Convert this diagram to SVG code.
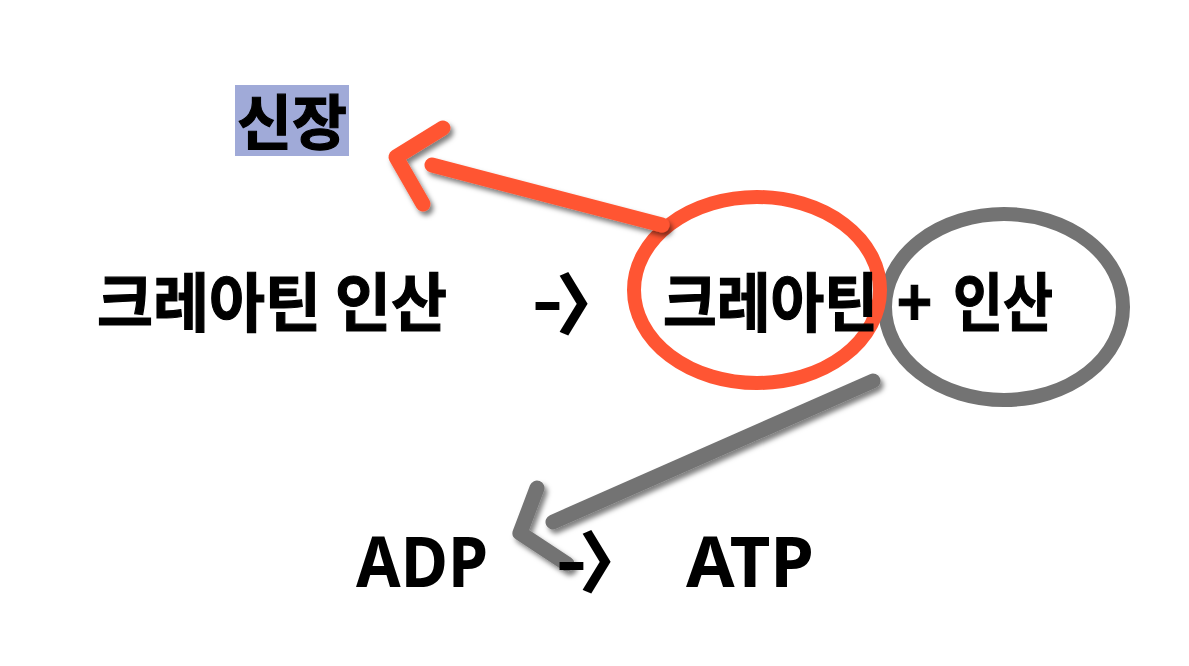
<svg xmlns="http://www.w3.org/2000/svg" width="1189" height="666" viewBox="0 0 1189 666">
<defs>
<style>
.t{font-family:"Noto Sans CJK KR","Noto Sans",sans-serif;font-weight:700;fill:#000;stroke:#000;stroke-width:1.2;}
.lat{font-family:"Noto Sans","Liberation Sans",sans-serif;font-weight:700;fill:#000;}
.dash{font-family:"Noto Sans","Liberation Sans",sans-serif;font-weight:700;fill:#000;}
.br{font-family:"Noto Sans CJK KR",sans-serif;font-weight:700;fill:#000;stroke:#000;stroke-width:2.5;}
.red{stroke:#ff5533;fill:none;stroke-width:15;stroke-linecap:round;stroke-linejoin:round;}
.gray{stroke:#737373;fill:none;stroke-width:15;stroke-linecap:round;stroke-linejoin:round;}
</style>
<filter id="sh" x="-20%" y="-20%" width="140%" height="140%">
<feDropShadow dx="3" dy="4" stdDeviation="2.5" flood-color="#000" flood-opacity="0.5"/>
</filter>
</defs>
<rect width="1189" height="666" fill="#fff"/>
<g id="shapes">
<ellipse cx="1004" cy="307" rx="119" ry="93" stroke="#737373" stroke-width="14" fill="none"/>
<ellipse cx="757" cy="290" rx="123" ry="93" stroke="#ff5533" stroke-width="14" fill="none"/>
</g>
<g id="connectors" filter="url(#sh)">
<line class="red" x1="662" y1="225" x2="432" y2="165"/>
<polyline class="red" points="443,128 396,157 423,204"/>
<line class="gray" x1="873" y1="381" x2="553" y2="522"/>
<polyline class="gray" points="537,488 520,533 567,564"/>
</g>
<g id="node-sinjang">
<rect x="235" y="85" width="114" height="71" fill="#a0aad8"/>
<text class="t" x="237" y="145" font-size="60" textLength="110" lengthAdjust="spacingAndGlyphs">신장</text>
</g>
<g id="node-creatine-phosphate">
<text class="t" x="97" y="326" font-size="64" textLength="350" lengthAdjust="spacingAndGlyphs">크레아틴 인산</text>
</g>
<g id="node-arrow1">
<text font-size="64" x="533" y="326"><tspan class="dash" x="533" y="323" textLength="29" lengthAdjust="spacingAndGlyphs">-</tspan><tspan class="br" x="558" y="328">〉</tspan></text>
</g>
<g id="node-creatine">
<text class="t" x="663" y="326" font-size="64" textLength="215" lengthAdjust="spacingAndGlyphs">크레아틴</text>
</g>
<g id="node-plus">
<text class="t" x="897" y="326" font-size="64" textLength="35" lengthAdjust="spacingAndGlyphs">+</text>
</g>
<g id="node-phosphate">
<text class="t" x="953" y="326" font-size="64" textLength="100" lengthAdjust="spacingAndGlyphs">인산</text>
</g>
<g id="node-adp">
<text class="lat" x="356" y="587" font-size="70" textLength="132" lengthAdjust="spacingAndGlyphs">ADP</text>
</g>
<g id="node-arrow2">
<text font-size="64" x="557" y="584"><tspan class="dash" x="557" y="583" textLength="29" lengthAdjust="spacingAndGlyphs">-</tspan><tspan class="br" x="581" y="586">〉</tspan></text>
</g>
<g id="node-atp">
<text class="lat" x="686" y="587" font-size="70" textLength="128" lengthAdjust="spacingAndGlyphs">ATP</text>
</g>
</svg>
